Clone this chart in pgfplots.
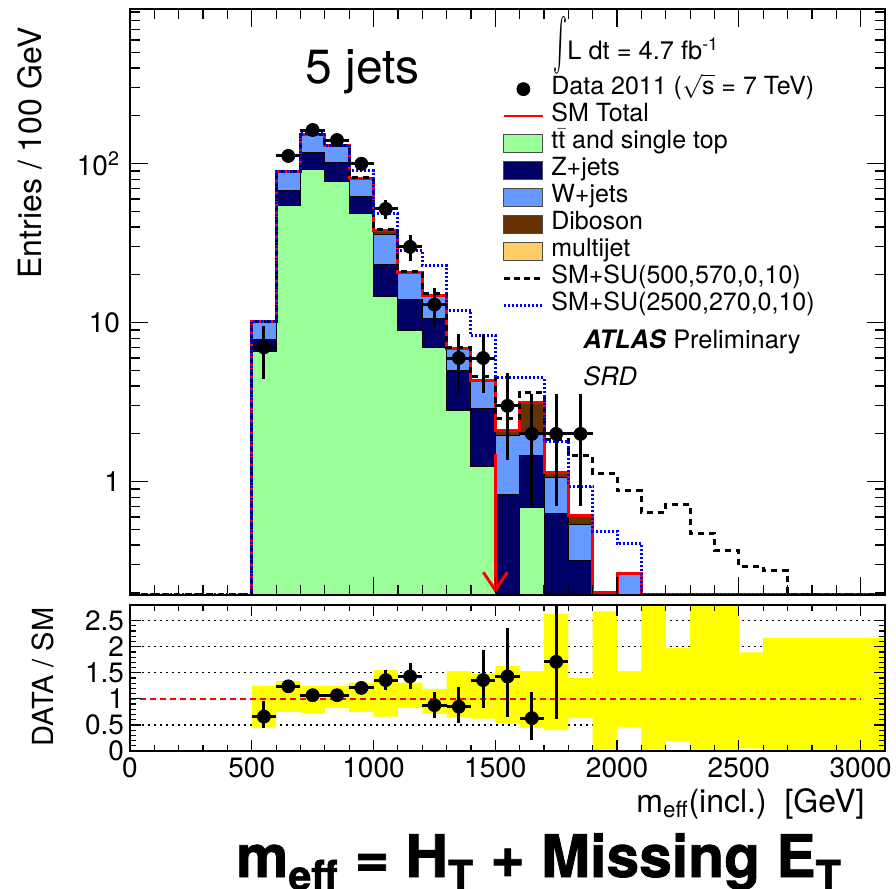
\documentclass[border=0pt]{standalone}
\usepackage{amsmath}
\usepackage{fontspec}
\setmainfont{TeX Gyre Heros}
\setsansfont{TeX Gyre Heros}
\newfontfamily\heavyfont[BoldFeatures={FakeBold=1.3}]{TeX Gyre Heros}
\usepackage{pgfplots}
\usepackage{pgfplotstable}
\pgfplotsset{compat=1.18}
\usetikzlibrary{arrows.meta}

\definecolor{ttcol}{RGB}{153,255,153}
\definecolor{zcol}{RGB}{0,0,102}
\definecolor{wcol}{RGB}{102,153,255}
\definecolor{dibcol}{RGB}{102,51,0}
\definecolor{mjcol}{RGB}{255,204,102}
\definecolor{bandcol}{RGB}{255,255,0}

% cumulative stacks (bin left edges), 0.01 = empty (below axis)
\pgfplotstableread{
x    tt     cz     cw     tot
500  0.01   0.01   0.01   0.01
500  6.55   7.8    10.2   10.2
600  54.4   67.6   89.5   89.5
700  92.6   117.8  153.8  153.8
800  77.4   101.9  129.8  129.8
900  48.7   62     81.3   81.3
1000 14.6   23.4   36.1   37.9
1100 8.9    14.1   20.7   20.7
1200 7.0    10.6   14.8   14.8
1300 2.82   5.04   6.9    6.9
1400 1.24   2.87   4.32   4.32
1500 0.01   0.837  1.95   2.09
1600 0.69   1.46   2.04   3.15
1700 0.01   0.63   1.06   1.14
1800 0.01   0.322  0.542  0.617
1900 0.01   0.01   0.01   0.2
2000 0.01   0.01   0.26   0.265
2100 0.01   0.01   0.01   0.01
}\stack

\pgfplotstableread{
x    v
500  0.01
500  10.2
600  89.5
700  153.8
800  129.8
900  81.3
1000 37.9
1100 20.7
1200 14.8
1300 6.9
1400 4.32
1500 2.09
1600 3.15
1700 1.14
1800 0.617
1900 0.2
2000 0.265
2100 0.196
3100 0.196
}\smtot

\pgfplotstableread{
x    v
0    0.196
500  10.2
600  89.5
700  153.8
800  130
900  81.5
1000 38.5
1100 21
1200 15.2
1300 7.0
1400 4.6
1500 2.5
1600 3.64
1700 1.85
1800 1.46
1900 1.12
2000 0.878
2100 0.64
2200 0.72
2300 0.475
2400 0.368
2500 0.292
2600 0.275
2700 0.196
3100 0.196
}\sua

\pgfplotstableread{
x    v
0    0.196
500  10.2
600  89.5
700  155
800  131
900  90.3
1000 48.3
1100 28.4
1200 22.8
1300 12.0
1400 8.3
1500 4.53
1600 4.53
1700 1.78
1800 0.94
1900 0.49
2000 0.41
2100 0.196
3100 0.196
}\sub

\pgfplotstableread{
x    y    ex  eyp   eym
550  7    50  2.6   2.6
650  112  50  10.6  10.6
750  163  50  12.8  12.8
850  141  50  11.9  11.9
950  100  50  10    10
1050 52   50  7.2   7.2
1150 30   50  5.5   5.5
1250 13   50  3.6   3.6
1350 6    50  2.5   2.4
1450 6    50  2.5   2.4
1550 3    50  1.8   1.63
1650 2    50  1.55  1.3
1750 2    50  1.55  1.3
1850 2    50  1.55  1.3
}\data

\pgfplotstableread{
x    r     ex  ep    em
550  0.66  50  0.29  0.21
650  1.24  50  0.12  0.12
750  1.07  50  0.09  0.09
850  1.07  50  0.09  0.09
950  1.21  50  0.12  0.12
1050 1.36  50  0.19  0.19
1150 1.43  50  0.25  0.25
1250 0.88  50  0.25  0.24
1350 0.85  50  0.37  0.31
1450 1.36  50  0.57  0.54
1550 1.43  50  0.92  0.77
1650 0.63  50  0.50  0.42
1750 1.71  50  1.30  1.10
}\ratio

\pgfplotsset{
  rootaxis/.style={
    scale only axis,
    axis on top,
    axis line style={line width=0.8pt},
    every tick/.style={black, line width=0.6pt},
    tick label style={font=\fontsize{14}{14}\selectfont},
    /pgf/number format/assume math mode=true,
  },
  stk/.style={const plot mark left, draw=black, line width=0.5pt, forget plot},
  datpts/.style={only marks, mark=*, mark size=3.25pt, black, forget plot,
    error bars/.cd, x dir=both, y dir=both, x explicit, y explicit,
    error mark=none, error bar style={line width=1.5pt, black}},
}

\begin{document}
\begin{tikzpicture}
\useasboundingbox (0,0) rectangle (448pt,-444.5pt);

% ---------------- main panel ----------------
\begin{axis}[rootaxis,
  at={(65pt,-4.5pt)}, anchor=north west,
  width=377.5pt, height=293pt,
  xmin=0, xmax=3100, ymode=log, ymin=0.194, ymax=940,
  xtick={0,500,...,3000}, xticklabels={}, minor x tick num=4,
  major tick length=9pt, minor tick length=5pt,
  ytick={1,10,100}, yticklabels={1,10,10$^{\text{2}}$},
  minor ytick={0.2,0.3,0.4,0.5,0.6,0.7,0.8,0.9,2,3,4,5,6,7,8,9,20,30,40,50,60,70,80,90,200,300,400,500,600,700,800,900},
  yticklabel style={xshift=-1.5pt},
  legend style={at={(0.4927,0.887)}, anchor=north west, draw=none, fill=none,
    inner sep=0pt, row sep=0pt, column sep=3.5pt,
    font=\fontsize{12.5}{15}\selectfont,
    nodes={inner sep=0pt, text height=9.5pt, text depth=4pt}},
  legend cell align=left,
]
\addlegendimage{legend image code/.code={\path[draw=none] (0pt,0pt) -- (19.5pt,0pt); \fill[black] (9.75pt,0pt) circle (3.25pt);}}
\addlegendentry{Data 2011 ($\sqrt{\text{s}}$ = 7 TeV)}
\addlegendimage{legend image code/.code={\draw[red, line width=1pt] (0pt,0pt) -- (19.5pt,0pt);}}
\addlegendentry{SM Total}
\addlegendimage{legend image code/.code={\draw[fill=ttcol, draw=black!70, line width=0.6pt] (0pt,-4.5pt) rectangle (19.5pt,4.5pt);}}
\addlegendentry{t$\bar{\text{t}}$ and single top}
\addlegendimage{legend image code/.code={\draw[fill=zcol, draw=black!70, line width=0.6pt] (0pt,-4.5pt) rectangle (19.5pt,4.5pt);}}
\addlegendentry{Z+jets}
\addlegendimage{legend image code/.code={\draw[fill=wcol, draw=black!70, line width=0.6pt] (0pt,-4.5pt) rectangle (19.5pt,4.5pt);}}
\addlegendentry{W+jets}
\addlegendimage{legend image code/.code={\draw[fill=dibcol, draw=black!70, line width=0.6pt] (0pt,-4.5pt) rectangle (19.5pt,4.5pt);}}
\addlegendentry{Diboson}
\addlegendimage{legend image code/.code={\draw[fill=mjcol, draw=black!70, line width=0.6pt] (0pt,-4.5pt) rectangle (19.5pt,4.5pt);}}
\addlegendentry{multijet}
\addlegendimage{legend image code/.code={\draw[black, line width=1.5pt, dash pattern=on 3pt off 2pt] (0pt,0pt) -- (19.5pt,0pt);}}
\addlegendentry{SM+SU(500,570,0,10)}
\addlegendimage{legend image code/.code={\draw[blue, line width=1.4pt, dash pattern=on 1pt off 1pt] (0pt,0pt) -- (19.5pt,0pt);}}
\addlegendentry{SM+SU(2500,270,0,10)}

% stacked backgrounds (cumulative, drawn from the top down)
\addplot[stk, fill=dibcol] table[x=x, y=tot] {\stack};
\addplot[stk, fill=wcol]   table[x=x, y=cw]  {\stack};
\addplot[stk, fill=zcol]   table[x=x, y=cz]  {\stack};
\addplot[stk, fill=ttcol]  table[x=x, y=tt]  {\stack};
% SM total
\addplot[const plot mark left, red, line width=1.5pt, forget plot] table[x=x, y=v] {\smtot};
% signals
\addplot[const plot mark left, black, line width=1.5pt, dash pattern=on 3pt off 2.5pt, forget plot] table[x=x, y=v] {\sua};
\addplot[const plot mark left, blue, line width=1.5pt, dash pattern=on 1pt off 1pt, forget plot] table[x=x, y=v] {\sub};
% data
\addplot[datpts] table[x=x, y=y, x error=ex, y error plus=eyp, y error minus=eym] {\data};
% cut arrow
\draw[red, line width=1.5pt, -{Straight Barb[length=9pt, width=12pt, line width=1.5pt]}] (axis cs:1500,1.5) -- (axis cs:1500,0.2);
\end{axis}

% ---------------- ratio panel ----------------
\begin{axis}[rootaxis,
  at={(65pt,-302.5pt)}, anchor=north west,
  width=377.5pt, height=73pt,
  xmin=0, xmax=3100, ymin=0, ymax=2.8,
  xtick={0,500,...,3000}, xticklabels={0,500,1000,1500,2000,2500,3000}, minor x tick num=4,
  ytick={0,0.5,1,1.5,2,2.5}, yticklabels={0,0.5,1,1.5,2,2.5}, minor y tick num=4,
  major tick length=5.5pt, minor tick length=3pt,
  yticklabel style={xshift=0.5pt},
]
\addplot[black, line width=0.6pt, dash pattern=on 1pt off 2pt, forget plot] coordinates {(0,0.5) (3100,0.5)};
\addplot[black, line width=0.6pt, dash pattern=on 1pt off 2pt, forget plot] coordinates {(0,1.5) (3100,1.5)};
\addplot[black, line width=0.6pt, dash pattern=on 1pt off 2pt, forget plot] coordinates {(0,2) (3100,2)};
\addplot[black, line width=0.6pt, dash pattern=on 1pt off 2pt, forget plot] coordinates {(0,2.5) (3100,2.5)};
% systematic band: upper edge left-to-right, lower edge right-to-left
\addplot[fill=bandcol, draw=none, forget plot] coordinates {
 (500,1.25)(600,1.25)(600,1.34)(700,1.34)(700,1.25)(800,1.25)(900,1.25)(900,1.31)(1000,1.31)
 (1000,1.55)(1100,1.55)(1100,1.31)(1200,1.31)(1200,1.19)(1300,1.19)(1300,1.53)(1400,1.53)
 (1400,1.49)(1500,1.49)(1500,1.63)(1600,1.63)(1600,1.53)(1700,1.53)(1700,2.63)(1800,2.63)
 (1800,1.40)(1900,1.40)(1900,2.68)(2000,2.68)(2000,1.53)(2100,1.53)(2100,2.9)(2200,2.9)
 (2200,1.98)(2300,1.98)(2300,2.9)(2500,2.9)(2500,1.89)(2600,1.89)(2600,2.17)(3100,2.17)
 (3100,0)(2600,0)(2600,0.05)(2500,0.05)(2500,0)(2300,0)(2300,0.19)(2200,0.19)(2200,0)(2100,0)
 (2100,0.45)(2000,0.45)(2000,0)(1900,0)(1900,0.63)(1800,0.63)(1800,0.40)(1700,0.40)
 (1700,0.45)(1600,0.45)(1600,0.53)(1500,0.53)(1500,0.62)(1400,0.62)(1400,0.64)(1300,0.64)
 (1300,0.71)(1200,0.71)(1200,0.82)(1100,0.82)(1100,0.66)(1000,0.66)(1000,0.75)(900,0.75)
 (900,0.82)(800,0.82)(800,0.73)(700,0.73)(700,0.75)(600,0.75)(600,0.45)(500,0.45)
} -- cycle;
\addplot[red, line width=1pt, dash pattern=on 3pt off 2pt, forget plot] coordinates {(0,1) (3000,1)};
\addplot[datpts] table[x=x, y=r, x error=ex, y error plus=ep, y error minus=em] {\ratio};
\end{axis}

% ---------------- texts ----------------
\node[rotate=90, font=\fontsize{16}{16}\selectfont] at (15pt,-76.5pt) {Entries / 100 GeV};
\node[rotate=90, font=\fontsize{14.5}{14.5}\selectfont] at (21.5pt,-338.5pt) {DATA / SM};
\node[anchor=base east, font=\fontsize{16}{16}\selectfont, inner sep=0pt] at (432.5pt,-406pt) {m$_{\text{eff}}$(incl.)\ \ [GeV]};
\node[anchor=base west, font=\fontsize{24}{24}\selectfont, inner sep=0pt] at (152.5pt,-41.5pt) {5 jets};
\node[anchor=center, inner sep=0pt] at (280pt,-22.5pt) {\scalebox{1.05}[2.6]{$\int$}};
\node[anchor=base west, font=\fontsize{12.7}{15}\selectfont, inner sep=0pt] at (283.5pt,-29.5pt) {L dt = 4.7 fb$^{\text{-1}}$};
\node[anchor=base west, font=\fontsize{12.7}{15}\selectfont, inner sep=0pt] at (291.5pt,-174pt) {\textbf{\textit{ATLAS}} Preliminary};
\node[anchor=base west, font=\fontsize{12.7}{15}\selectfont\itshape, inner sep=0pt] at (291.5pt,-192.5pt) {SRD};
\node[anchor=base, font=\heavyfont\fontsize{29.4}{29.4}\selectfont\bfseries, inner sep=0pt] at (269.5pt,-438.5pt) {m$_{\text{\heavyfont\bfseries eff}}$ = H$_{\text{\heavyfont\bfseries T}}$ + Missing E$_{\text{\heavyfont\bfseries T}}$};
\end{tikzpicture}
\end{document}
